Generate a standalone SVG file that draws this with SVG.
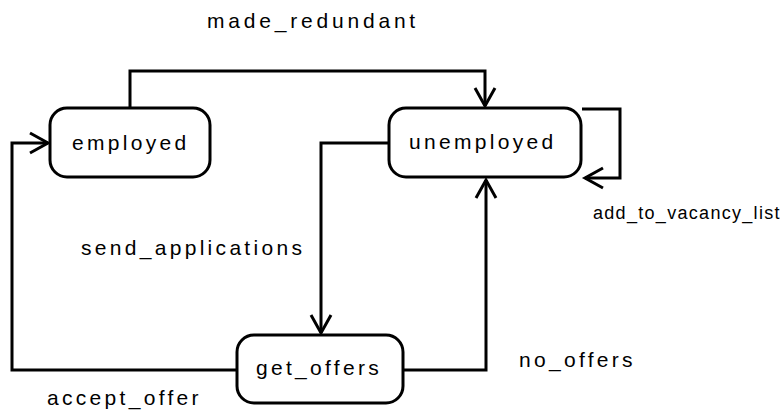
<svg xmlns="http://www.w3.org/2000/svg" width="783" height="412" viewBox="0 0 783 412">
<defs>
<style>
.node rect{fill:#fff;stroke:#000;stroke-width:3}
text{font-family:"Liberation Sans",Arial,sans-serif;font-size:21px;letter-spacing:3.3px;fill:#000}
.edge{fill:none;stroke:#000;stroke-width:3;marker-end:url(#arr)}
</style>
<marker id="arr" markerUnits="userSpaceOnUse" markerWidth="30" markerHeight="30" viewBox="-22 -15 30 30" refX="0" refY="0" orient="auto" overflow="visible">
<path d="M-18,-10 L0,0 L-18,10" fill="none" stroke="#000" stroke-width="3"/>
</marker>
</defs>
<rect width="783" height="412" fill="#fff"/>
<g id="connectors">
<path class="edge" d="M130,108 V71 H485 V106"/>
<path class="edge" d="M582,109 H620 V178 H585"/>
<path class="edge" d="M389,143 H321 V333"/>
<path class="edge" d="M403,370 H486 V180"/>
<path class="edge" d="M237,370 H12 V143 H48"/>
</g>
<g id="employed" class="node"><rect x="50" y="108" width="160" height="69" rx="17"/><text x="72" y="150">employed</text></g>
<g id="unemployed" class="node"><rect x="389" y="108" width="192" height="69" rx="17"/><text x="409" y="149">unemployed</text></g>
<g id="get_offers" class="node"><rect x="237" y="335" width="166" height="68" rx="17"/><text x="256" y="375">get_offers</text></g>
<g id="labels">
<text x="207" y="28" style="letter-spacing:3.8px">made_redundant</text>
<text x="593" y="219" style="font-size:18px;letter-spacing:1.3px">add_to_vacancy_list</text>
<text x="81" y="255">send_applications</text>
<text x="519" y="367">no_offers</text>
<text x="47" y="405">accept_offer</text>
</g>
</svg>
